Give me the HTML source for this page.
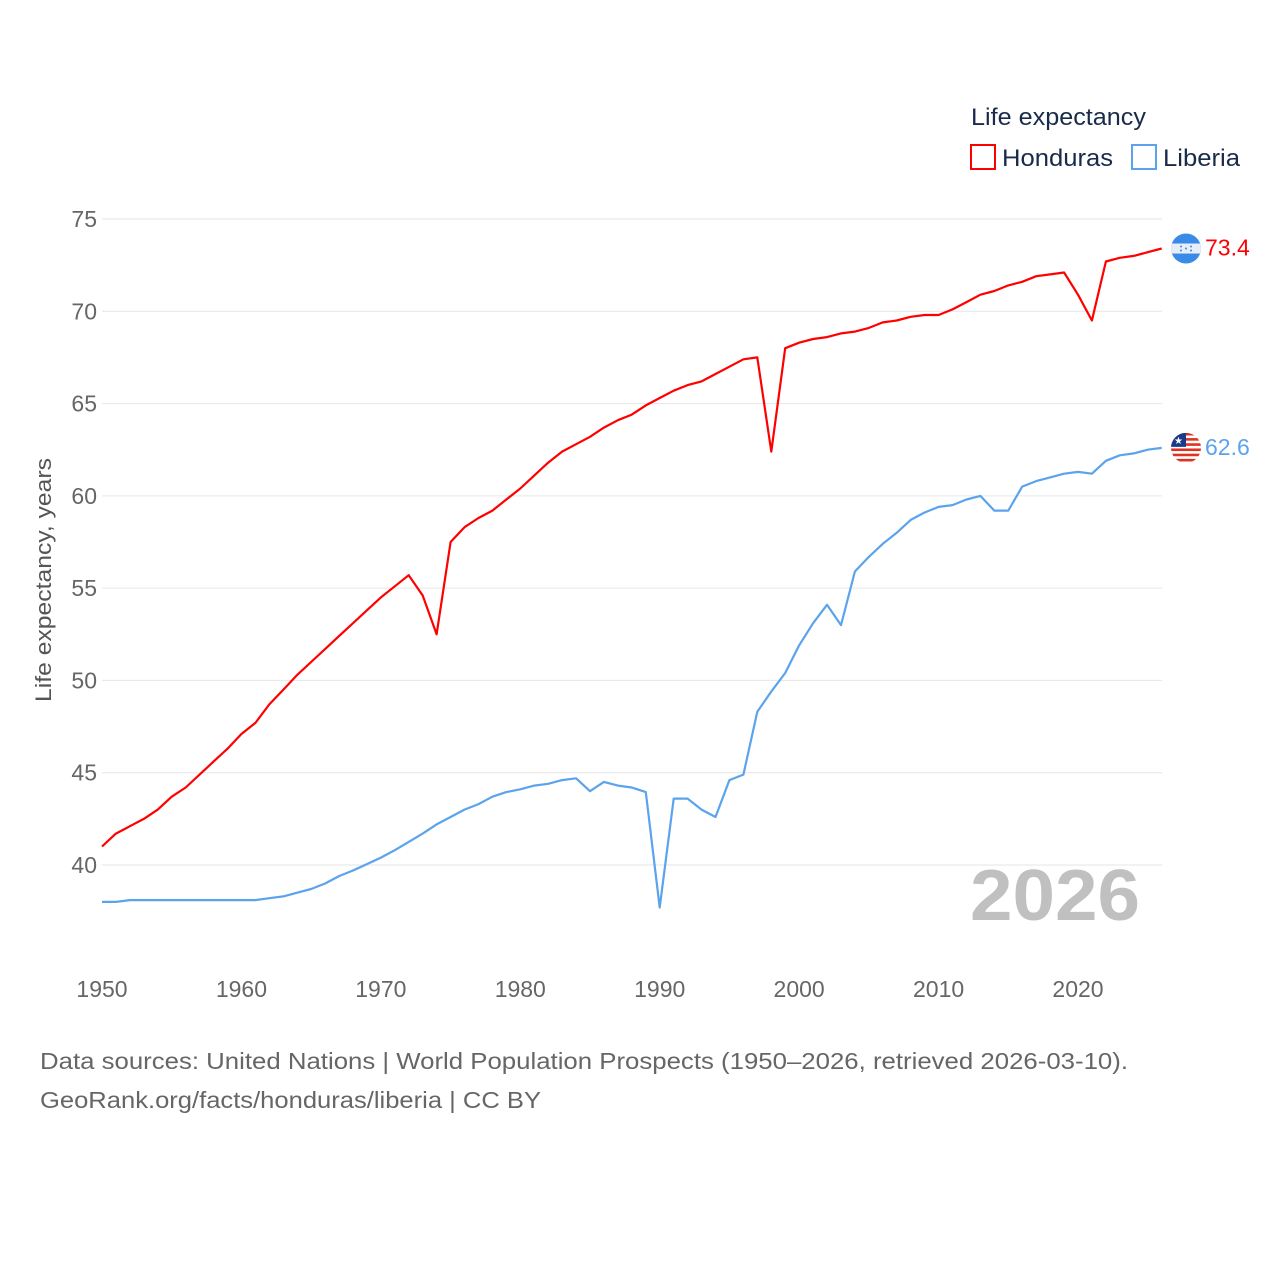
<!DOCTYPE html>
<html><head><meta charset="utf-8"><style>
body{margin:0;background:#fff;font-family:"Liberation Sans",sans-serif}
svg text{font-family:"Liberation Sans",sans-serif}
</style></head><body>
<svg id="chart" width="1280" height="1280" xmlns="http://www.w3.org/2000/svg">
<defs>
<clipPath id="clipH"><circle cx="1186" cy="248" r="15"/></clipPath>
<clipPath id="clipL"><circle cx="1186" cy="448" r="15"/></clipPath>
</defs>
<rect width="1280" height="1280" fill="#fff"/>
<g id="grid"></g>
<g id="yticks"></g>
<g id="xticks"></g>
<text x="970" y="920" textLength="170" lengthAdjust="spacingAndGlyphs" font-size="72" font-weight="bold" fill="#c0c0c0">2026</text>
<g id="series"></g>
<text transform="translate(51,580) rotate(-90)" text-anchor="middle" font-size="22" fill="#555" textLength="244" lengthAdjust="spacingAndGlyphs">Life expectancy, years</text>
<g>
<text x="971" y="125" font-size="24" fill="#1a2b4a" textLength="175" lengthAdjust="spacingAndGlyphs">Life expectancy</text>
<g><rect x="971" y="145" width="24" height="24" fill="none" stroke="#f00" stroke-width="2"/><text x="1002" y="166" font-size="24" fill="#1a2b4a" textLength="111" lengthAdjust="spacingAndGlyphs">Honduras</text></g>
<g><rect x="1132" y="145" width="24" height="24" fill="none" stroke="#5ba3ec" stroke-width="2"/><text x="1163" y="166" font-size="24" fill="#1a2b4a" textLength="77" lengthAdjust="spacingAndGlyphs">Liberia</text></g>
</g>
<text x="40" y="1069" font-size="23" fill="#666" textLength="1088" lengthAdjust="spacingAndGlyphs">Data sources: United Nations | World Population Prospects (1950–2026, retrieved 2026-03-10).</text>
<text x="40" y="1108" font-size="23" fill="#666" textLength="501" lengthAdjust="spacingAndGlyphs">GeoRank.org/facts/honduras/liberia | CC BY</text>
</svg>
<script>
const years=[];for(let y=1950;y<=2026;y++)years.push(y);
const honduras=[41.0,41.7,42.1,42.5,43.0,43.7,44.2,44.9,45.6,46.3,47.1,47.7,48.7,49.5,50.3,51.0,51.7,52.4,53.1,53.8,54.5,55.1,55.7,54.6,52.5,57.5,58.3,58.8,59.2,59.8,60.4,61.1,61.8,62.4,62.8,63.2,63.7,64.1,64.4,64.9,65.3,65.7,66.0,66.2,66.6,67.0,67.4,67.5,62.4,68.0,68.3,68.5,68.6,68.8,68.9,69.1,69.4,69.5,69.7,69.8,69.8,70.1,70.5,70.9,71.1,71.4,71.6,71.9,72.0,72.1,70.9,69.5,72.7,72.9,73.0,73.2,73.4];
const liberia=[38.0,38.0,38.1,38.1,38.1,38.1,38.1,38.1,38.1,38.1,38.1,38.1,38.2,38.3,38.5,38.7,39.0,39.4,39.7,40.05,40.4,40.8,41.25,41.7,42.2,42.6,43.0,43.3,43.7,43.95,44.1,44.3,44.4,44.6,44.7,44.0,44.5,44.3,44.2,43.95,37.7,43.6,43.6,43.0,42.6,44.6,44.9,48.3,49.4,50.4,51.9,53.1,54.1,53.0,55.9,56.7,57.4,58.0,58.7,59.1,59.4,59.5,59.8,60.0,59.2,59.2,60.5,60.8,61.0,61.2,61.3,61.2,61.9,62.2,62.3,62.5,62.6];
const yTicks=[40,45,50,55,60,65,70,75];
const xTicks=[1950,1960,1970,1980,1990,2000,2010,2020];
const X=y=>102+(y-1950)*(976/70);
const Y=v=>219+(75-v)*(646/35);
const NS='http://www.w3.org/2000/svg';
function mk(t,a,p){const e=document.createElementNS(NS,t);for(const k in a)e.setAttribute(k,a[k]);p.appendChild(e);return e;}
const grid=document.getElementById('grid'),yt=document.getElementById('yticks'),xt=document.getElementById('xticks'),ser=document.getElementById('series');
yTicks.forEach(v=>{
 const l=mk('line',{x1:102,x2:1162,y1:Y(v),y2:Y(v),stroke:'#e6e6e6','stroke-width':1},grid);
 
 
 const t=mk('text',{x:97,y:Y(v)+8,'text-anchor':'end','font-size':23,fill:'#666'},yt);t.textContent=v;
 
 
});
xTicks.forEach(y=>{
 const t=mk('text',{x:X(y),y:997,'text-anchor':'middle','font-size':23,fill:'#666'},xt);t.textContent=y;
 
 
});
function line(vals,color,name,clip){
 const d=vals.map((v,i)=>(i?'L':'M')+X(years[i]).toFixed(1)+','+Y(v).toFixed(1)).join('');
 const p=mk('path',{d:d,fill:'none',stroke:color,'stroke-width':2.2,'stroke-linejoin':'round'},ser);
 
 
 const last=vals[vals.length-1],cx=1186,cy=Y(last);
 const g=mk('g',{'clip-path':'url(#'+clip+')'},ser);
 
 
 return {g,cx,cy,last};
}
const h=line(honduras,'#f00','honduras','clipH');
document.querySelector('#clipH circle').setAttribute('cy',h.cy);
mk('rect',{x:h.cx-15,y:h.cy-15,width:30,height:30,fill:'#3a8be8'},h.g);
mk('rect',{x:h.cx-15,y:h.cy-5,width:30,height:10,fill:'#e8eef8'},h.g);
[[-5,-2],[5,-2],[0,0],[-5,2],[5,2]].forEach(s=>mk('circle',{cx:h.cx+s[0],cy:h.cy+s[1],r:1,fill:'#3a8be8'},h.g));
let ht=mk('text',{x:1205,y:h.cy+7,'font-size':23,fill:'#f00'},ser);ht.textContent=h.last.toFixed(1);


const l=line(liberia,'#5ba3ec','liberia','clipL');
document.querySelector('#clipL circle').setAttribute('cy',l.cy);
mk('rect',{x:l.cx-15,y:l.cy-15,width:30,height:30,fill:'#fff'},l.g);
for(let i=0;i<6;i++)mk('rect',{x:l.cx-15,y:l.cy-15+i*5.2,width:30,height:2.6,fill:'#d32'},l.g);
mk('rect',{x:l.cx-15,y:l.cy-15,width:15,height:14,fill:'#1a3a8a'},l.g);
mk('text',{x:l.cx-7.5,y:l.cy-4,'font-size':10,fill:'#fff','text-anchor':'middle'},l.g).textContent='★';
let lt=mk('text',{x:1205,y:l.cy+7,'font-size':23,fill:'#5ba3ec'},ser);lt.textContent=l.last.toFixed(1);


</script>
</body></html>
